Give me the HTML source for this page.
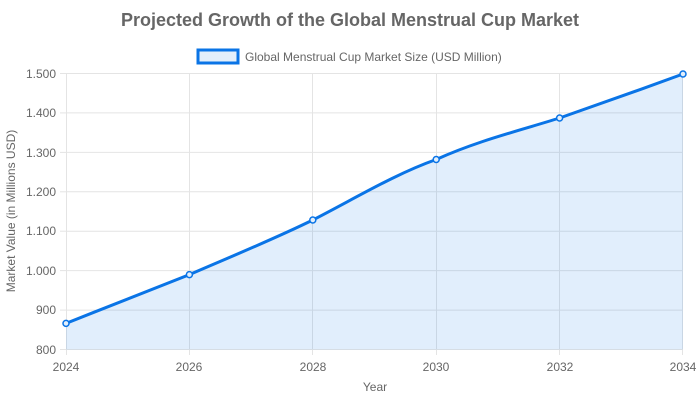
<!DOCTYPE html>
<html><head><meta charset="utf-8"><style>
html,body{margin:0;padding:0;background:#fff;}
svg{display:block;font-family:"Liberation Sans",Arial,sans-serif;}
</style></head><body>
<svg width="700" height="400" viewBox="0 0 700 400" xmlns="http://www.w3.org/2000/svg">
<text x="350" y="26" text-anchor="middle" font-size="18" font-weight="bold" fill="#666">Projected Growth of the Global Menstrual Cup Market</text>
<rect x="198" y="50" width="40" height="13" fill="#e3effb" stroke="#0a74e6" stroke-width="3"/>
<text x="245" y="61" font-size="12" fill="#666">Global Menstrual Cup Market Size (USD Million)</text>
<g stroke="#e4e4e4" stroke-width="1">
<line x1="66" y1="73.5" x2="683" y2="73.5"/>
<line x1="66" y1="112.9" x2="683" y2="112.9"/>
<line x1="66" y1="152.4" x2="683" y2="152.4"/>
<line x1="66" y1="191.8" x2="683" y2="191.8"/>
<line x1="66" y1="231.2" x2="683" y2="231.2"/>
<line x1="66" y1="270.6" x2="683" y2="270.6"/>
<line x1="66" y1="310.1" x2="683" y2="310.1"/>
<line x1="66" y1="349.5" x2="683" y2="349.5"/>
<line x1="66.5" y1="73" x2="66.5" y2="355"/>
<line x1="189.5" y1="73" x2="189.5" y2="355"/>
<line x1="312.5" y1="73" x2="312.5" y2="355"/>
<line x1="436.5" y1="73" x2="436.5" y2="355"/>
<line x1="559.5" y1="73" x2="559.5" y2="355"/>
<line x1="682.5" y1="73" x2="682.5" y2="355"/>
<line x1="60" y1="73.5" x2="66" y2="73.5"/><line x1="60" y1="112.9" x2="66" y2="112.9"/><line x1="60" y1="152.4" x2="66" y2="152.4"/><line x1="60" y1="191.8" x2="66" y2="191.8"/><line x1="60" y1="231.2" x2="66" y2="231.2"/><line x1="60" y1="270.6" x2="66" y2="270.6"/><line x1="60" y1="310.1" x2="66" y2="310.1"/><line x1="60" y1="349.5" x2="66" y2="349.5"/>
</g>
<g font-size="12" fill="#666" text-anchor="end">
<text x="56" y="78">1.500</text><text x="56" y="117">1.400</text><text x="56" y="157">1.300</text><text x="56" y="196">1.200</text><text x="56" y="235">1.100</text><text x="56" y="275">1.000</text><text x="56" y="314">900</text><text x="56" y="354">800</text>
</g>
<g font-size="12" fill="#666" text-anchor="middle">
<text x="66" y="371">2024</text><text x="189" y="371">2026</text><text x="313" y="371">2028</text><text x="436" y="371">2030</text><text x="560" y="371">2032</text><text x="683" y="371">2034</text>
<text x="375" y="391">Year</text>
</g>
<text transform="translate(15,211) rotate(-90)" text-anchor="middle" font-size="12" fill="#666">Market Value (in Millions USD)</text>
<path d="M66,323.4 C107,307 148,291 189.4,274.6 C230,257 272,240 312.8,220 C354,199 395,174 436.2,159.5 C477,141 518,131 559.6,118 C600,104 642,89 683,74 L683,349.5 L66,349.5 Z" fill="#0a74e6" fill-opacity="0.12"/>
<path d="M66,323.4 C107,307 148,291 189.4,274.6 C230,257 272,240 312.8,220 C354,199 395,174 436.2,159.5 C477,141 518,131 559.6,118 C600,104 642,89 683,74" fill="none" stroke="#0a74e6" stroke-width="3"/>
<g fill="#e3effb" stroke="#0a74e6" stroke-width="1.5">
<circle cx="66" cy="323.4" r="3"/><circle cx="189.4" cy="274.6" r="3"/><circle cx="312.8" cy="220" r="3"/><circle cx="436.2" cy="159.5" r="3"/><circle cx="559.6" cy="118" r="3"/><circle cx="683" cy="74" r="3"/>
</g>
</svg>
</body></html>
